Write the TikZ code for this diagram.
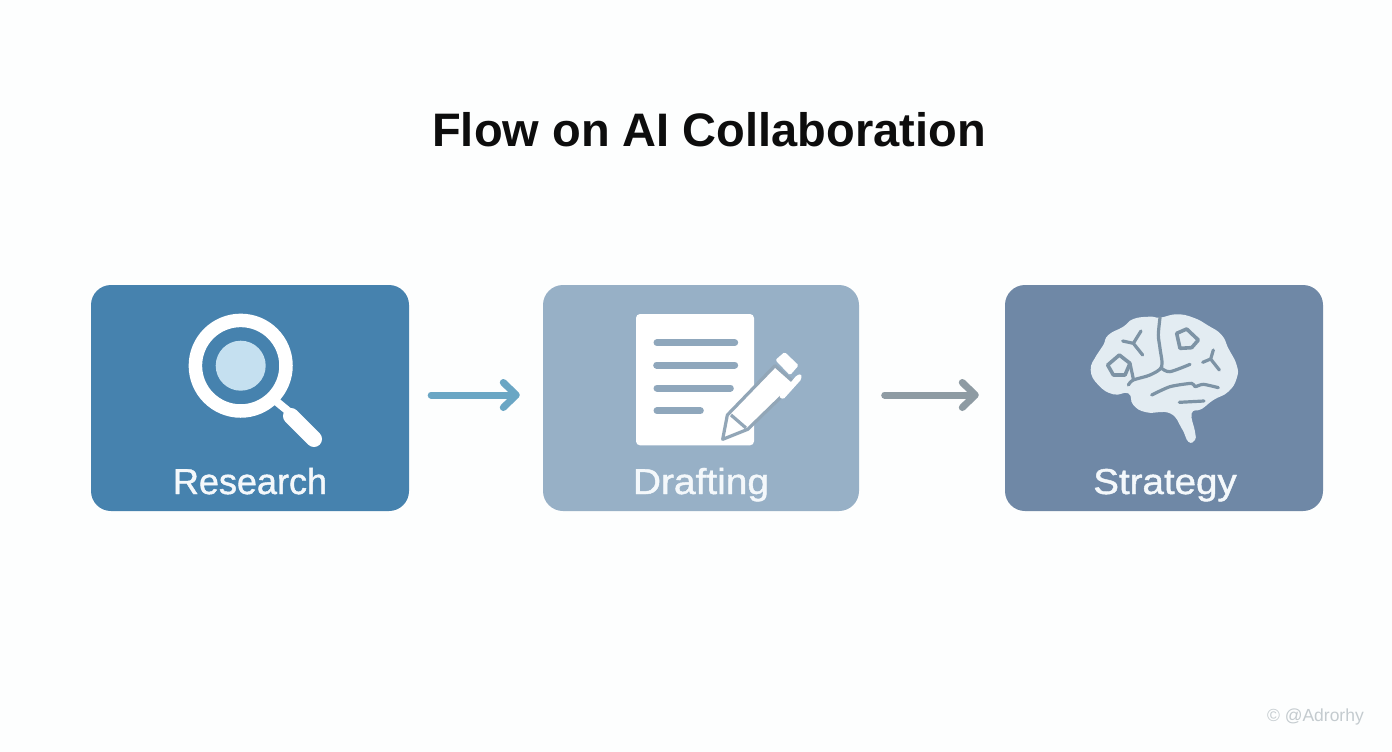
\documentclass[tikz,border=0pt]{standalone}
\usepackage{fontspec}
\setmainfont{Liberation Sans}
\newfontfamily\titlefont{Liberation Sans}
\newfontfamily\labfont[FakeBold=1.2]{Liberation Sans}
\usetikzlibrary{arrows.meta}
\definecolor{bgc}{HTML}{FDFEFE}
\definecolor{boxa}{HTML}{4682AE}
\definecolor{boxb}{HTML}{97B0C6}
\definecolor{boxc}{HTML}{6F88A6}
\definecolor{arra}{HTML}{6AA6C4}
\definecolor{arrb}{HTML}{8E9BA3}
\definecolor{lens}{HTML}{C5E0F0}
\definecolor{brainf}{HTML}{E3ECF2}
\definecolor{brainl}{HTML}{7D93A5}
\definecolor{penl}{HTML}{92A6B7}
\definecolor{wm}{HTML}{C4CBCF}
\definecolor{lab}{HTML}{F4F8FB}
\tikzset{
  x=1pt,y=-1pt,
  card/.style={draw=none,rounded corners=20pt,minimum height=226pt,inner sep=0pt},
  cardlabel/.style={anchor=base,inner sep=0pt,text=lab,font=\labfont\fontsize{36}{36}\selectfont},
  flow/.style={line width=7pt,line cap=round,line join=round,-{Straight Barb[length=13pt,width=25pt,line width=7pt,round]}},
  docline/.style={line width=7pt,line cap=round,draw=boxb!95!black},
  sulcus/.style={line width=3.2pt,draw=brainl,line cap=round,line join=round},
  zoomed/.style={x=0.33333pt,y=-0.33333pt}
}
\begin{document}
\begin{tikzpicture}
\path[use as bounding box,fill=bgc] (0,0) rectangle (1392,752);
\node[anchor=base,inner sep=0pt,font=\titlefont\bfseries\fontsize{47}{47}\selectfont,text=black!95] (title) at (709,146) {Flow on AI Collaboration};
\node[card,fill=boxa,minimum width=318pt] (research) at (250,398) {};
\node[card,fill=boxb,minimum width=316pt] (drafting) at (701,398) {};
\node[card,fill=boxc,minimum width=318pt] (strategy) at (1164,398) {};
\node[cardlabel] (lr) at (250,494) {Research};
\node[cardlabel] (ld) at (701,494) {\scalebox{1.08}[1]{Drafting}};
\node[cardlabel] (ls) at (1165,494) {\scalebox{1.07}[1]{Strategy}};
\draw[flow,draw=arra,shorten <=22pt,shorten >=23pt] ([yshift=3pt]research.east) -- ([yshift=3pt]drafting.west);
\draw[flow,draw=arrb,shorten <=25.5pt,shorten >=26pt] ([yshift=3pt]drafting.east) -- ([yshift=3pt]strategy.west);
% magnifier
\draw[white,line width=13.5pt] (240.7,365.7) circle[radius=45.3];
\fill[lens] (240.7,365.7) circle[radius=25];
\draw[white,line width=8pt] (276.7,401.7) -- (288,411);
\draw[white,line width=16pt,line cap=round] (291,416) -- (314,439);
% document
\begin{scope}[shift={(620,300)},zoomed]
\fill[white,rounded corners=4pt] (48,42) rectangle (402,436);
\draw[docline] (111,128) -- (344,128);
\draw[docline] (110,195) -- (344,195);
\draw[docline] (111,264) -- (331,264);
\draw[docline] (111,332) -- (241,332);
% pencil
\draw[penl,fill=white,line width=3.2pt,line join=round] (308,418) -- (322,345) -- (465,197) -- (525,250) -- (383,388) -- cycle;
\draw[penl,line width=3.2pt] (333,345) -- (378,384);
\fill[white,rounded corners=1.5pt] (466,180) -- (494,156) -- (536,196) -- (510,226) -- cycle;
\fill[white,rounded corners=1.5pt] (476,290) -- (530,226) -- (544,222) -- (544,238) -- (490,298) -- cycle;
\end{scope}
% brain
\begin{scope}[shift={(1080,305)},zoomed]
\fill[brainf] plot[smooth cycle,tension=0.8] coordinates {(240,38) (290,28) (340,38) (385,62) (425,90) (445,130) (470,180) (470,220) (445,260) (400,285) (365,312) (335,325) (345,380) (345,405) (325,410) (305,370) (270,325) (200,322) (160,300) (145,265) (100,268) (55,240) (32,195) (50,150) (70,120) (85,90) (130,65) (160,42) (210,35)};
\draw[sulcus] plot[smooth,tension=0.5] coordinates {(240,38) (235,90) (240,130) (245,185) (210,210) (160,225) (145,240)};
\draw[sulcus] plot[smooth,tension=0.5] coordinates {(245,190) (270,200) (330,178)};
\draw[sulcus] plot[smooth,tension=0.4] coordinates {(215,270) (270,245) (335,235) (345,245) (370,238) (415,248)};
\draw[sulcus] (298,292) -- (372,288);
\draw[sulcus] (128,108) -- (160,115) -- (183,78) (160,115) -- (188,150);
\draw[sulcus] (368,172) -- (392,162) -- (400,135) (392,162) -- (418,195);
\draw[sulcus,line width=3.6pt] (290,85) -- (320,72) -- (355,105) -- (335,128) -- (300,130) -- cycle;
\draw[sulcus,line width=3.6pt] (83,180) -- (118,150) -- (150,175) -- (135,210) -- (100,210) -- cycle;
\draw[sulcus] (150,175) -- (160,222);
\end{scope}
\node[anchor=base east,inner sep=0pt,text=wm,font=\fontsize{17.5}{17.5}\selectfont] (mark) at (1364,721) {© @Adrorhy};
\end{tikzpicture}
\end{document}
